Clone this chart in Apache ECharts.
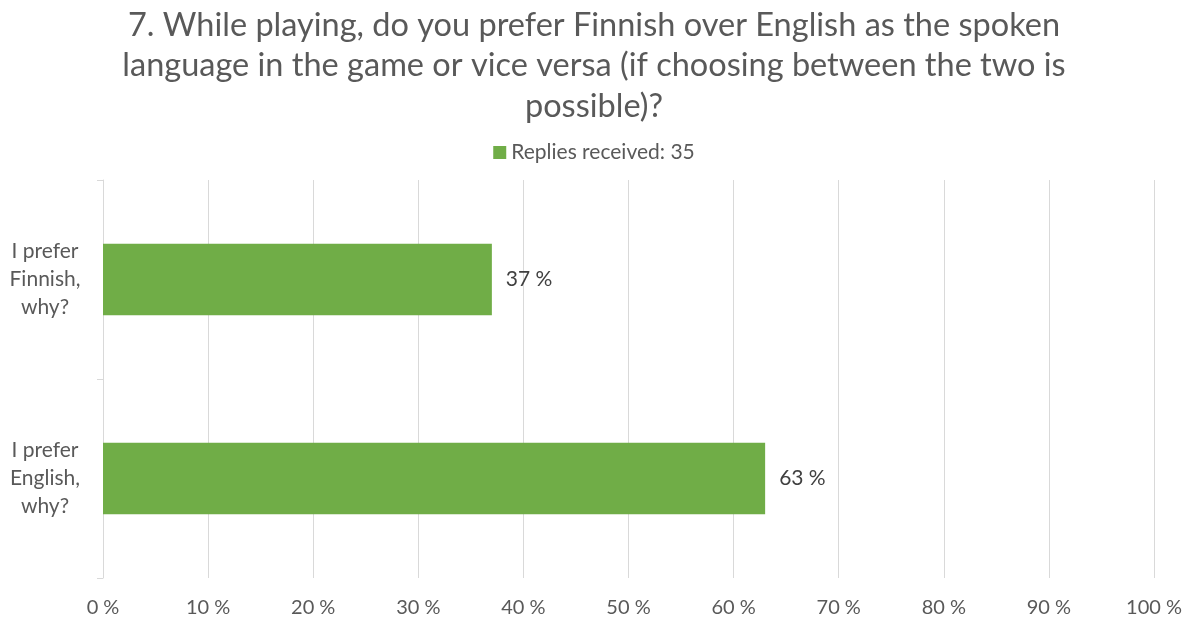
<!DOCTYPE html>
<html>
<head>
<meta charset="utf-8">
<script src="https://cdn.jsdelivr.net/npm/echarts@6/dist/echarts.min.js"></script>
<style>
html,body{margin:0;padding:0;background:#fff;}
#chart{width:1188px;height:622px;}
</style>
</head>
<body>
<div id="chart"></div>
<script>
// Survey question 7: spoken language preference
const categories = ['I prefer\nFinnish,\nwhy?', 'I prefer\nEnglish,\nwhy?'];
const shares = [37, 63];
const xTicks = [0, 10, 20, 30, 40, 50, 60, 70, 80, 90, 100];
const seriesName = 'Replies received: 35';
const titleText = '7. While playing, do you prefer Finnish over English as the spoken\nlanguage in the game or vice versa (if choosing between the two is\npossible)?';

const FONT = 'Lato, "Open Sans", sans-serif';
const chart = echarts.init(document.getElementById('chart'));
chart.setOption({
  animation: false,
  textStyle: { fontFamily: FONT },
  title: {
    text: titleText,
    left: 'center',
    top: 3,
    padding: [2, 5, 2, 5],
    textStyle: { fontFamily: FONT, fontSize: 32.5, fontWeight: 'normal', color: '#595959', lineHeight: 40.5 }
  },
  legend: {
    data: [seriesName],
    top: 137,
    left: 'center',
    icon: 'rect',
    itemWidth: 13,
    itemHeight: 13,
    itemGap: 6,
    textStyle: { fontFamily: FONT, fontSize: 21, color: '#595959' }
  },
  grid: { left: 103, right: 34, top: 180, bottom: 44, containLabel: false },
  xAxis: {
    type: 'value',
    min: 0,
    max: 100,
    interval: 10,
    axisLine: { show: false },
    axisTick: { show: false },
    splitLine: { show: true, lineStyle: { color: '#d9d9d9', width: 1 } },
    axisLabel: {
      margin: 20,
      fontSize: 20,
      color: '#595959',
      fontFamily: FONT,
      formatter: function (v) { return xTicks.indexOf(v) >= 0 ? v + ' %' : ''; }
    }
  },
  yAxis: {
    type: 'category',
    inverse: true,
    data: categories,
    axisLine: { show: true, lineStyle: { color: '#d9d9d9', width: 1 } },
    axisTick: { show: true, length: 6, lineStyle: { color: '#d9d9d9' } },
    axisLabel: {
      margin: 58,
      fontSize: 21,
      lineHeight: 28,
      color: '#595959',
      fontFamily: FONT,
      align: 'center'
    }
  },
  series: [{
    name: seriesName,
    type: 'bar',
    data: shares,
    barWidth: '36%',
    itemStyle: { color: '#70ad47' },
    label: {
      show: true,
      position: 'right',
      distance: 14,
      fontSize: 21,
      color: '#404040',
      fontFamily: FONT,
      formatter: function (p) { return p.value + ' %'; }
    }
  }]
});
</script>
</body>
</html>
